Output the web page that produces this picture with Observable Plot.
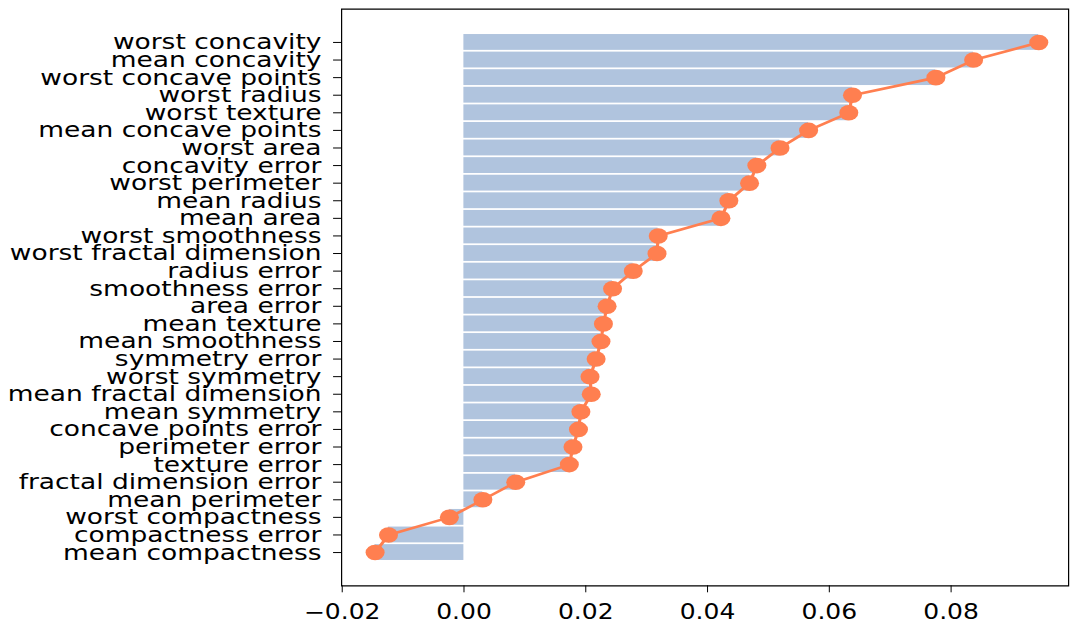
<!DOCTYPE html>
<html><head><meta charset="utf-8">
<script src="https://cdn.jsdelivr.net/npm/d3@7"></script>
<script src="https://cdn.jsdelivr.net/npm/@observablehq/plot@0.6"></script>
<style>
html,body{margin:0;padding:0;background:#fff;}
#chart{width:1070px;height:627px;overflow:hidden;}
</style>
</head><body><div id="chart"></div>
<script>
const features = [
  "worst concavity","mean concavity","worst concave points","worst radius","worst texture",
  "mean concave points","worst area","concavity error","worst perimeter","mean radius",
  "mean area","worst smoothness","worst fractal dimension","radius error","smoothness error",
  "area error","mean texture","mean smoothness","symmetry error","worst symmetry",
  "mean fractal dimension","mean symmetry","concave points error","perimeter error","texture error",
  "fractal dimension error","mean perimeter","worst compactness","compactness error","mean compactness"
];
const importance = [
  0.0944, 0.0837, 0.0775, 0.0638, 0.0632,
  0.0566, 0.0519, 0.0481, 0.0469, 0.0435,
  0.0422, 0.0319, 0.0317, 0.0278, 0.0244,
  0.0235, 0.0229, 0.0225, 0.0217, 0.0207,
  0.0209, 0.0192, 0.0188, 0.0179, 0.0173,
  0.0085, 0.0031, -0.0024, -0.0124, -0.0146
];
const xTicks = [-0.02, 0.00, 0.02, 0.04, 0.06, 0.08];
const xDomain = [-0.0201, 0.0993];
const yDomain = [-1.89, 30.89];

const W = 1070, H = 627, SX = 1.2201;
const W0 = W / SX;
const halfBar = 0.45;
const data = features.map((f, i) => ({feature: f, idx: i, value: importance[i]}));
const fmt = d3.format(".2f");

const svg = Plot.plot({
  width: W0, height: H,
  marginLeft: 341 / SX, marginRight: (W - 1068) / SX, marginTop: 8.7, marginBottom: 41.7,
  style: {fontFamily: "DejaVu Sans", fontSize: "20px", background: "white", color: "black", overflow: "visible"},
  x: {domain: xDomain},
  y: {domain: yDomain, reverse: true},
  marks: [
    Plot.rectX(data, {x1: 0, x2: "value", y1: d => d.idx - halfBar, y2: d => d.idx + halfBar, fill: "#b0c4de"}),
    Plot.line(data, {x: "value", y: "idx", stroke: "#ff7f50", strokeWidth: 2.6}),
    Plot.dot(data, {x: "value", y: "idx", r: 7.8, fill: "#ff7f50", stroke: "none"}),
    Plot.frame({stroke: "black", strokeWidth: 1.2}),
    Plot.axisX(xTicks, {anchor: "bottom", tickFormat: fmt, tickSize: 7, tickPadding: 12, fontSize: 20.5, label: null, stroke: "black"}),
    Plot.axisY(d3.range(features.length), {anchor: "left", tickFormat: i => features[i], tickSize: 6.5, tickPadding: 10, fontSize: 21.7, label: null, stroke: "black"})
  ]
});

svg.setAttribute("width", W);
svg.setAttribute("height", H);
svg.setAttribute("viewBox", `0 0 ${W0} ${H}`);
svg.setAttribute("preserveAspectRatio", "none");
svg.style.width = W + "px";
svg.style.height = H + "px";
svg.style.maxWidth = "none";
svg.querySelectorAll("rect, path, line").forEach(el => {
  if (el.getAttribute("fill") === "none" || el.closest("[aria-label*='tick']") || el.closest("[aria-label='frame']")) {
    el.setAttribute("vector-effect", "non-scaling-stroke");
  }
});
document.getElementById("chart").appendChild(svg);
</script>
</body></html>
